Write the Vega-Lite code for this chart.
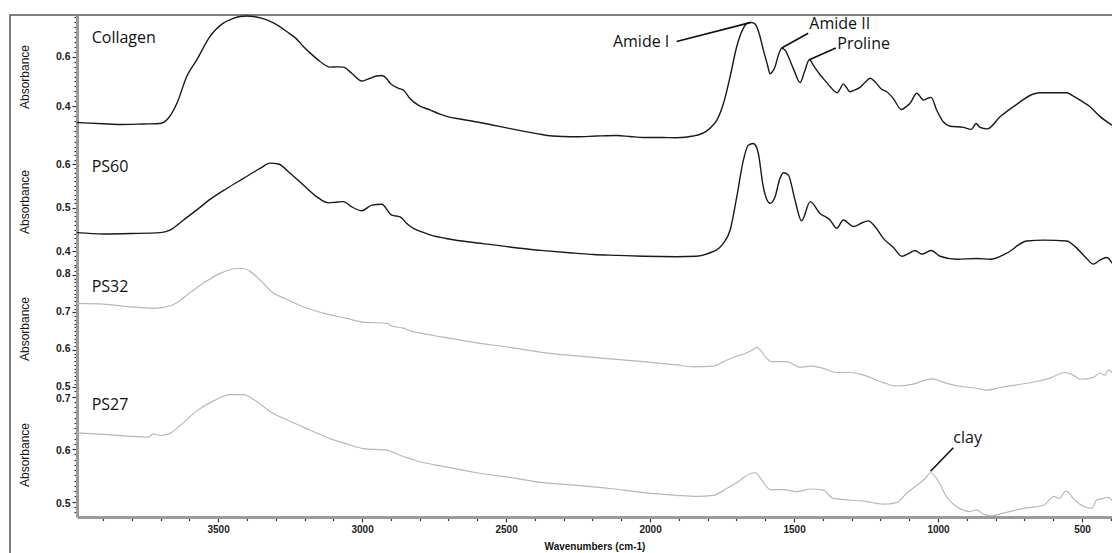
{
  "$schema": "https://vega.github.io/schema/vega-lite/v6.json",
  "width": 1104,
  "height": 540,
  "autosize": {"type": "none"},
  "padding": {"left": 10, "top": 15, "right": -2, "bottom": -2},
  "background": "white",
  "config": {
    "view": {"stroke": "#555", "strokeWidth": 1.5},
    "axis": {"grid": false, "domainColor": "#9a9a9a", "domainWidth": 3, "tickColor": "#333", "tickWidth": 1.2, "labelFont": "Liberation Sans", "labelFontWeight": "bold", "labelColor": "#222", "titleFont": "Liberation Sans", "titleColor": "#111", "labelOverlap": false, "labelFlush": false, "labelBound": false},
    "axisX": {"orient": "bottom", "offset": -38, "values": [400,500,600,700,800,900,1000,1100,1200,1300,1400,1500,1600,1700,1800,1900,2000,2100,2200,2300,2400,2500,2600,2700,2800,2900,3000,3100,3200,3300,3400,3500,3600,3700,3800,3900],
      "tickSize": {"condition": {"test": "datum.value % 500 == 0", "value": 5}, "value": 3.5},
      "labelExpr": "datum.value % 500 == 0 ? format(datum.value, 'd') : ''", "labelFontSize": 10, "labelPadding": 2, "titleFontSize": 10, "titleFontWeight": "bold", "titlePadding": 7},
    "axisY": {"offset": -67, "titleFontSize": 12, "titleFontWeight": "normal", "titlePadding": 24, "labelFontSize": 10.5, "labelPadding": 2,
      "tickSize": {"condition": {"test": "abs(datum.value*10 - round(datum.value*10)) < 0.001", "value": 5}, "value": 3}}
  },
  "datasets": {
    "collagen": [
      {"wn":3990,"a":0.333},{"wn":3900,"a":0.328},{"wn":3840,"a":0.325},{"wn":3760,"a":0.327},{"wn":3701,"a":0.329},{"wn":3673,"a":0.35},{"wn":3643,"a":0.411},{"wn":3609,"a":0.52},{"wn":3574,"a":0.588},{"wn":3528,"a":0.683},{"wn":3482,"a":0.737},{"wn":3450,"a":0.755},{"wn":3424,"a":0.764},{"wn":3400,"a":0.766},{"wn":3377,"a":0.764},{"wn":3350,"a":0.757},{"wn":3319,"a":0.744},{"wn":3290,"a":0.726},{"wn":3262,"a":0.703},{"wn":3230,"a":0.675},{"wn":3204,"a":0.642},{"wn":3175,"a":0.61},{"wn":3146,"a":0.581},{"wn":3111,"a":0.558},{"wn":3085,"a":0.559},{"wn":3065,"a":0.558},{"wn":3036,"a":0.533},{"wn":3001,"a":0.502},{"wn":2985,"a":0.507},{"wn":2972,"a":0.513},{"wn":2950,"a":0.522},{"wn":2932,"a":0.524},{"wn":2915,"a":0.512},{"wn":2903,"a":0.493},{"wn":2874,"a":0.472},{"wn":2857,"a":0.465},{"wn":2833,"a":0.43},{"wn":2805,"a":0.404},{"wn":2764,"a":0.384},{"wn":2730,"a":0.367},{"wn":2694,"a":0.354},{"wn":2660,"a":0.347},{"wn":2600,"a":0.335},{"wn":2544,"a":0.322},{"wn":2490,"a":0.309},{"wn":2428,"a":0.295},{"wn":2380,"a":0.285},{"wn":2347,"a":0.279},{"wn":2300,"a":0.276},{"wn":2255,"a":0.275},{"wn":2185,"a":0.278},{"wn":2116,"a":0.28},{"wn":2070,"a":0.276},{"wn":2023,"a":0.272},{"wn":1960,"a":0.272},{"wn":1907,"a":0.271},{"wn":1850,"a":0.278},{"wn":1803,"a":0.299},{"wn":1785,"a":0.318},{"wn":1768,"a":0.343},{"wn":1745,"a":0.411},{"wn":1722,"a":0.52},{"wn":1699,"a":0.642},{"wn":1676,"a":0.717},{"wn":1660,"a":0.738},{"wn":1649,"a":0.74},{"wn":1635,"a":0.733},{"wn":1620,"a":0.69},{"wn":1607,"a":0.629},{"wn":1593,"a":0.57},{"wn":1583,"a":0.531},{"wn":1575,"a":0.54},{"wn":1566,"a":0.56},{"wn":1555,"a":0.605},{"wn":1543,"a":0.635},{"wn":1530,"a":0.625},{"wn":1520,"a":0.601},{"wn":1500,"a":0.545},{"wn":1479,"a":0.495},{"wn":1465,"a":0.535},{"wn":1447,"a":0.588},{"wn":1430,"a":0.56},{"wn":1410,"a":0.527},{"wn":1390,"a":0.5},{"wn":1375,"a":0.479},{"wn":1350,"a":0.454},{"wn":1340,"a":0.47},{"wn":1329,"a":0.49},{"wn":1318,"a":0.475},{"wn":1306,"a":0.458},{"wn":1290,"a":0.465},{"wn":1271,"a":0.476},{"wn":1250,"a":0.5},{"wn":1236,"a":0.513},{"wn":1219,"a":0.499},{"wn":1196,"a":0.468},{"wn":1178,"a":0.458},{"wn":1156,"a":0.431},{"wn":1127,"a":0.386},{"wn":1110,"a":0.398},{"wn":1097,"a":0.411},{"wn":1074,"a":0.452},{"wn":1060,"a":0.435},{"wn":1051,"a":0.424},{"wn":1035,"a":0.432},{"wn":1024,"a":0.435},{"wn":1005,"a":0.384},{"wn":982,"a":0.336},{"wn":958,"a":0.318},{"wn":912,"a":0.313},{"wn":884,"a":0.305},{"wn":868,"a":0.329},{"wn":854,"a":0.313},{"wn":829,"a":0.307},{"wn":785,"a":0.356},{"wn":727,"a":0.407},{"wn":669,"a":0.449},{"wn":640,"a":0.454},{"wn":611,"a":0.454},{"wn":553,"a":0.454},{"wn":530,"a":0.44},{"wn":507,"a":0.424},{"wn":472,"a":0.397},{"wn":439,"a":0.359},{"wn":396,"a":0.322}
    ],
    "ps60": [
      {"wn":3990,"a":0.443},{"wn":3898,"a":0.44},{"wn":3800,"a":0.441},{"wn":3701,"a":0.443},{"wn":3667,"a":0.449},{"wn":3620,"a":0.472},{"wn":3574,"a":0.495},{"wn":3528,"a":0.519},{"wn":3470,"a":0.544},{"wn":3412,"a":0.567},{"wn":3354,"a":0.59},{"wn":3319,"a":0.602},{"wn":3291,"a":0.6},{"wn":3250,"a":0.579},{"wn":3204,"a":0.552},{"wn":3157,"a":0.525},{"wn":3117,"a":0.511},{"wn":3085,"a":0.513},{"wn":3065,"a":0.514},{"wn":3036,"a":0.502},{"wn":3001,"a":0.493},{"wn":2966,"a":0.506},{"wn":2932,"a":0.508},{"wn":2897,"a":0.483},{"wn":2868,"a":0.479},{"wn":2845,"a":0.464},{"wn":2820,"a":0.452},{"wn":2790,"a":0.444},{"wn":2764,"a":0.438},{"wn":2694,"a":0.428},{"wn":2620,"a":0.421},{"wn":2544,"a":0.415},{"wn":2460,"a":0.408},{"wn":2370,"a":0.402},{"wn":2280,"a":0.397},{"wn":2197,"a":0.393},{"wn":2110,"a":0.391},{"wn":2023,"a":0.389},{"wn":1907,"a":0.388},{"wn":1838,"a":0.389},{"wn":1792,"a":0.397},{"wn":1760,"a":0.408},{"wn":1745,"a":0.419},{"wn":1722,"a":0.449},{"wn":1699,"a":0.525},{"wn":1676,"a":0.609},{"wn":1659,"a":0.643},{"wn":1642,"a":0.647},{"wn":1630,"a":0.638},{"wn":1624,"a":0.624},{"wn":1607,"a":0.548},{"wn":1583,"a":0.51},{"wn":1566,"a":0.525},{"wn":1550,"a":0.565},{"wn":1537,"a":0.58},{"wn":1520,"a":0.575},{"wn":1497,"a":0.518},{"wn":1474,"a":0.47},{"wn":1444,"a":0.514},{"wn":1410,"a":0.487},{"wn":1375,"a":0.472},{"wn":1352,"a":0.453},{"wn":1329,"a":0.472},{"wn":1294,"a":0.457},{"wn":1265,"a":0.465},{"wn":1242,"a":0.47},{"wn":1219,"a":0.457},{"wn":1190,"a":0.43},{"wn":1155,"a":0.409},{"wn":1126,"a":0.389},{"wn":1100,"a":0.396},{"wn":1080,"a":0.402},{"wn":1057,"a":0.394},{"wn":1024,"a":0.402},{"wn":993,"a":0.389},{"wn":935,"a":0.382},{"wn":866,"a":0.384},{"wn":819,"a":0.382},{"wn":762,"a":0.396},{"wn":692,"a":0.424},{"wn":634,"a":0.426},{"wn":553,"a":0.424},{"wn":524,"a":0.411},{"wn":484,"a":0.384},{"wn":461,"a":0.371},{"wn":438,"a":0.38},{"wn":414,"a":0.386},{"wn":396,"a":0.373}
    ],
    "ps32": [
      {"wn":3990,"a":0.724},{"wn":3898,"a":0.722},{"wn":3806,"a":0.715},{"wn":3725,"a":0.711},{"wn":3678,"a":0.715},{"wn":3643,"a":0.726},{"wn":3609,"a":0.746},{"wn":3551,"a":0.778},{"wn":3493,"a":0.804},{"wn":3435,"a":0.817},{"wn":3412,"a":0.817},{"wn":3390,"a":0.81},{"wn":3366,"a":0.795},{"wn":3340,"a":0.775},{"wn":3314,"a":0.755},{"wn":3262,"a":0.735},{"wn":3204,"a":0.715},{"wn":3134,"a":0.698},{"wn":3053,"a":0.684},{"wn":2995,"a":0.674},{"wn":2914,"a":0.671},{"wn":2897,"a":0.664},{"wn":2857,"a":0.658},{"wn":2833,"a":0.651},{"wn":2805,"a":0.646},{"wn":2718,"a":0.634},{"wn":2602,"a":0.619},{"wn":2486,"a":0.607},{"wn":2370,"a":0.593},{"wn":2255,"a":0.584},{"wn":2139,"a":0.576},{"wn":2023,"a":0.569},{"wn":1907,"a":0.56},{"wn":1850,"a":0.555},{"wn":1780,"a":0.557},{"wn":1745,"a":0.569},{"wn":1711,"a":0.58},{"wn":1680,"a":0.588},{"wn":1660,"a":0.594},{"wn":1645,"a":0.6},{"wn":1630,"a":0.607},{"wn":1615,"a":0.598},{"wn":1600,"a":0.582},{"wn":1578,"a":0.569},{"wn":1526,"a":0.569},{"wn":1479,"a":0.554},{"wn":1439,"a":0.557},{"wn":1399,"a":0.551},{"wn":1352,"a":0.54},{"wn":1306,"a":0.54},{"wn":1259,"a":0.533},{"wn":1190,"a":0.513},{"wn":1144,"a":0.504},{"wn":1086,"a":0.509},{"wn":1022,"a":0.523},{"wn":970,"a":0.511},{"wn":912,"a":0.502},{"wn":866,"a":0.498},{"wn":831,"a":0.493},{"wn":785,"a":0.5},{"wn":727,"a":0.507},{"wn":658,"a":0.516},{"wn":611,"a":0.525},{"wn":559,"a":0.54},{"wn":530,"a":0.533},{"wn":507,"a":0.522},{"wn":461,"a":0.527},{"wn":438,"a":0.538},{"wn":421,"a":0.533},{"wn":409,"a":0.547},{"wn":396,"a":0.54}
    ],
    "ps27": [
      {"wn":3990,"a":0.631},{"wn":3898,"a":0.628},{"wn":3817,"a":0.625},{"wn":3742,"a":0.623},{"wn":3725,"a":0.629},{"wn":3701,"a":0.626},{"wn":3667,"a":0.63},{"wn":3632,"a":0.645},{"wn":3574,"a":0.673},{"wn":3516,"a":0.692},{"wn":3458,"a":0.704},{"wn":3412,"a":0.704},{"wn":3366,"a":0.691},{"wn":3314,"a":0.67},{"wn":3262,"a":0.656},{"wn":3204,"a":0.642},{"wn":3111,"a":0.62},{"wn":3053,"a":0.61},{"wn":2995,"a":0.601},{"wn":2914,"a":0.598},{"wn":2857,"a":0.586},{"wn":2833,"a":0.582},{"wn":2805,"a":0.577},{"wn":2718,"a":0.567},{"wn":2602,"a":0.555},{"wn":2486,"a":0.546},{"wn":2370,"a":0.536},{"wn":2255,"a":0.531},{"wn":2139,"a":0.525},{"wn":2023,"a":0.517},{"wn":1907,"a":0.512},{"wn":1838,"a":0.51},{"wn":1780,"a":0.512},{"wn":1734,"a":0.525},{"wn":1694,"a":0.538},{"wn":1653,"a":0.553},{"wn":1635,"a":0.555},{"wn":1612,"a":0.541},{"wn":1583,"a":0.523},{"wn":1537,"a":0.523},{"wn":1491,"a":0.519},{"wn":1444,"a":0.524},{"wn":1399,"a":0.522},{"wn":1364,"a":0.506},{"wn":1306,"a":0.503},{"wn":1248,"a":0.5},{"wn":1190,"a":0.495},{"wn":1144,"a":0.498},{"wn":1109,"a":0.516},{"wn":1074,"a":0.531},{"wn":1045,"a":0.544},{"wn":1026,"a":0.555},{"wn":1005,"a":0.544},{"wn":970,"a":0.509},{"wn":935,"a":0.49},{"wn":889,"a":0.481},{"wn":866,"a":0.484},{"wn":843,"a":0.476},{"wn":814,"a":0.473},{"wn":773,"a":0.478},{"wn":704,"a":0.487},{"wn":634,"a":0.493},{"wn":597,"a":0.51},{"wn":579,"a":0.506},{"wn":556,"a":0.52},{"wn":524,"a":0.502},{"wn":495,"a":0.491},{"wn":467,"a":0.487},{"wn":449,"a":0.503},{"wn":426,"a":0.506},{"wn":409,"a":0.508},{"wn":396,"a":0.502}
    ],
    "labelsCollagen": [
      {"wn":3939,"a":0.676,"t":"Collagen"},
      {"wn":2129,"a":0.662,"t":"Amide I"},
      {"wn":1447,"a":0.733,"t":"Amide II"},
      {"wn":1350,"a":0.652,"t":"Proline"}
    ],
    "leadersCollagen": [
      {"wn":1908,"wn2":1649,"a":0.662,"a2":0.74},
      {"wn":1451,"wn2":1543,"a":0.696,"a2":0.636},
      {"wn":1355,"wn2":1447,"a":0.636,"a2":0.588}
    ],
    "labelsPS60": [{"wn":3939,"a":0.594,"t":"PS60"}],
    "labelsPS32": [{"wn":3939,"a":0.7685,"t":"PS32"}],
    "labelsPS27": [
      {"wn":3939,"a":0.6847,"t":"PS27"},
      {"wn":947,"a":0.6208,"t":"clay"}
    ],
    "leadersPS27": [{"wn":947,"wn2":1026,"a":0.6027,"a2":0.5578}]
  },
  "resolve": {"scale": {"y": "independent"}, "axis": {"y": "independent"}},
  "layer": [
    {
      "encoding": {
        "x": {"field": "wn", "type": "quantitative", "title": "Wavenumbers (cm-1)", "scale": {"domain": [3990, 396], "range": [67, 1102], "nice": false, "zero": false}},
        "y": {"field": "a", "type": "quantitative", "title": "Absorbance", "scale": {"domain": [0.27, 0.77], "range": [123, 0], "nice": false, "zero": false},
          "axis": {"orient": "left", "offset": -67, "values": [0.28,0.3,0.32,0.34,0.36,0.38,0.4,0.42,0.44,0.46,0.48,0.5,0.52,0.54,0.56,0.58,0.6,0.62,0.64,0.66,0.68,0.7,0.72,0.74,0.76],
            "tickSize": {"condition": {"test": "abs(datum.value*5 - round(datum.value*5)) < 0.001", "value": 5}, "value": 3},
            "labelExpr": "abs(datum.value*5 - round(datum.value*5)) < 0.001 ? format(datum.value, '.1f') : ''"}}
      },
      "layer": [
        {"mark": {"type": "rule", "color": "#ececec", "strokeWidth": 1.5}, "encoding": {"y": {"datum": 0.27}}},
        {"data": {"name": "collagen"}, "mark": {"type": "line", "color": "#1a1a1a", "strokeWidth": 1.4, "interpolate": "monotone"}},
        {"data": {"name": "leadersCollagen"}, "mark": {"type": "rule", "color": "#111", "strokeWidth": 1.6}, "encoding": {"x2": {"field": "wn2"}, "y2": {"field": "a2"}}},
        {"data": {"name": "labelsCollagen"}, "mark": {"type": "text", "align": "left", "baseline": "middle", "font": "Open Sans", "fontSize": 16, "color": "#111"}, "encoding": {"text": {"field": "t"}}}
      ]
    },
    {
      "encoding": {
        "x": {"field": "wn", "type": "quantitative", "title": "Wavenumbers (cm-1)", "scale": {"domain": [3990, 396], "range": [67, 1102], "nice": false, "zero": false}},
        "y": {"field": "a", "type": "quantitative", "title": "Absorbance", "scale": {"domain": [0.369, 0.6595], "range": [250, 123], "nice": false, "zero": false},
          "axis": {"orient": "left", "offset": -67, "values": [0.37,0.38,0.39,0.4,0.41,0.42,0.43,0.44,0.45,0.46,0.47,0.48,0.49,0.5,0.51,0.52,0.53,0.54,0.55,0.56,0.57,0.58,0.59,0.6,0.61,0.62,0.63,0.64,0.65],
            "labelExpr": "abs(datum.value*10 - round(datum.value*10)) < 0.001 ? format(datum.value, '.1f') : ''"}}
      },
      "layer": [
        {"mark": {"type": "rule", "color": "#ececec", "strokeWidth": 1.5}, "encoding": {"y": {"datum": 0.369}}},
        {"data": {"name": "ps60"}, "mark": {"type": "line", "color": "#1a1a1a", "strokeWidth": 1.4, "interpolate": "monotone"}},
        {"data": {"name": "labelsPS60"}, "mark": {"type": "text", "align": "left", "baseline": "middle", "font": "Open Sans", "fontSize": 16, "color": "#111"}, "encoding": {"text": {"field": "t"}}}
      ]
    },
    {
      "encoding": {
        "x": {"field": "wn", "type": "quantitative", "title": "Wavenumbers (cm-1)", "scale": {"domain": [3990, 396], "range": [67, 1102], "nice": false, "zero": false}},
        "y": {"field": "a", "type": "quantitative", "title": "Absorbance", "scale": {"domain": [0.488, 0.8263], "range": [377, 250], "nice": false, "zero": false},
          "axis": {"orient": "left", "offset": -67, "labelOffset": -1, "values": [0.49,0.5,0.51,0.52,0.53,0.54,0.55,0.56,0.57,0.58,0.59,0.6,0.61,0.62,0.63,0.64,0.65,0.66,0.67,0.68,0.69,0.7,0.71,0.72,0.73,0.74,0.75,0.76,0.77,0.78,0.79,0.8,0.81,0.82],
            "labelExpr": "abs(datum.value*10 - round(datum.value*10)) < 0.001 ? format(datum.value, '.1f') : ''"}}
      },
      "layer": [
        {"mark": {"type": "rule", "color": "#ececec", "strokeWidth": 1.5}, "encoding": {"y": {"datum": 0.488}}},
        {"data": {"name": "ps32"}, "mark": {"type": "line", "color": "#b8b8b8", "strokeWidth": 1.2, "interpolate": "monotone"}},
        {"data": {"name": "labelsPS32"}, "mark": {"type": "text", "align": "left", "baseline": "middle", "font": "Open Sans", "fontSize": 16, "color": "#111"}, "encoding": {"text": {"field": "t"}}}
      ]
    },
    {
      "encoding": {
        "x": {"field": "wn", "type": "quantitative", "title": "Wavenumbers (cm-1)", "scale": {"domain": [3990, 396], "range": [67, 1102], "nice": false, "zero": false}},
        "y": {"field": "a", "type": "quantitative", "title": "Absorbance", "scale": {"domain": [0.4706, 0.709], "range": [502, 377], "nice": false, "zero": false},
          "axis": {"orient": "left", "offset": -67, "labelOffset": 1.5, "values": [0.48,0.49,0.5,0.51,0.52,0.53,0.54,0.55,0.56,0.57,0.58,0.59,0.6,0.61,0.62,0.63,0.64,0.65,0.66,0.67,0.68,0.69,0.7],
            "labelExpr": "abs(datum.value*10 - round(datum.value*10)) < 0.001 ? format(datum.value, '.1f') : ''"}}
      },
      "layer": [
        {"data": {"name": "ps27"}, "mark": {"type": "line", "color": "#b8b8b8", "strokeWidth": 1.2, "interpolate": "monotone"}},
        {"data": {"name": "leadersPS27"}, "mark": {"type": "rule", "color": "#111", "strokeWidth": 1.6}, "encoding": {"x2": {"field": "wn2"}, "y2": {"field": "a2"}}},
        {"data": {"name": "labelsPS27"}, "mark": {"type": "text", "align": "left", "baseline": "middle", "font": "Open Sans", "fontSize": 16, "color": "#111"}, "encoding": {"text": {"field": "t"}}}
      ]
    }
  ]
}
